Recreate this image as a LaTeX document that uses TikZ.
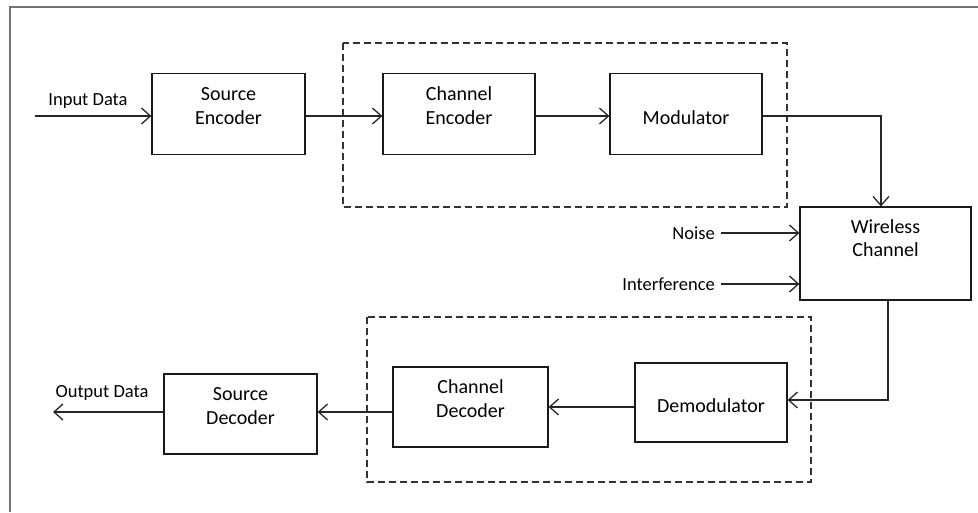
\documentclass[tikz,border=0pt]{standalone}
\usepackage{fontspec}
\setmainfont{Carlito}
\usetikzlibrary{arrows.meta}

\begin{document}
\begin{tikzpicture}[x=1pt,y=-1pt,
    block/.style={draw=black!90,line width=1.2pt,minimum width=153pt,minimum height=81pt,inner sep=0pt,
        align=center,font=\fontsize{20}{23.5}\selectfont,text height=20pt,text depth=0pt},
    lbl/.style={font=\fontsize{18.5}{22}\selectfont,inner sep=2pt},
    arr/.style={draw=black!85,line width=1.3pt,-{Straight Barb[length=9pt,width=16pt,line width=1.3pt]}},
    group/.style={draw=black!80,line width=1.2pt,dash pattern=on 7pt off 4pt}]
    \useasboundingbox (0,0) rectangle (978,512);
    \draw[black!55,line width=1.5pt] (978,7) -- (10,7) -- (10,512);
    \draw[group] (343,43) rectangle (787,207);
    \draw[group] (367,317) rectangle (811,482);

    \node[block] (senc) at (228.5,114) {Source\\Encoder};
    \node[block,minimum width=152pt] (cenc) at (459,114) {Channel\\Encoder};
    \node[block,minimum width=152pt] (mod) at (686,114) {Modulator};
    \node[block,minimum width=171pt,minimum height=93pt,text depth=14pt] (wch) at (885.5,253.5) {Wireless\\Channel};
    \node[block,minimum width=152pt,minimum height=79pt,text depth=-4pt] (demod) at (711,402.5) {Demodulator};
    \node[block,minimum width=155pt,minimum height=80pt] (cdec) at (470.5,407) {Channel\\Decoder};
    \node[block,minimum height=80pt] (sdec) at (240.5,414) {Source\\Decoder};

    \coordinate (din) at (35,116);
    \coordinate (dout) at (53,412);
    \node[lbl] (indata) at (88,101) {Input Data};
    \node[lbl] (outdata) at (102,393) {Output Data};
    \node[lbl,anchor=east] (noise) at (717,233) {Noise};
    \node[lbl,anchor=east] (intf) at (717,284) {Interference};

    \draw[arr] (din) -- (din -| senc.west);
    \draw[arr] (din -| senc.east) -- (din -| cenc.west);
    \draw[arr] (din -| cenc.east) -- (din -| mod.west);
    \draw[arr] (din -| mod.east) -| ([xshift=-4.5pt]wch.north);
    \draw[arr] ([xshift=4pt]noise.east) -- (noise.east -| wch.west);
    \draw[arr] ([xshift=4pt]intf.east) -- (intf.east -| wch.west);
    \draw[arr] ([xshift=2.5pt]wch.south) |- ([yshift=2.5pt]demod.east);
    \draw[arr] (demod.west |- cdec.east) -- (cdec.east);
    \draw[arr] (cdec.west |- dout) -- (sdec.east |- dout);
    \draw[arr] (sdec.west |- dout) -- (dout);
\end{tikzpicture}
\end{document}
